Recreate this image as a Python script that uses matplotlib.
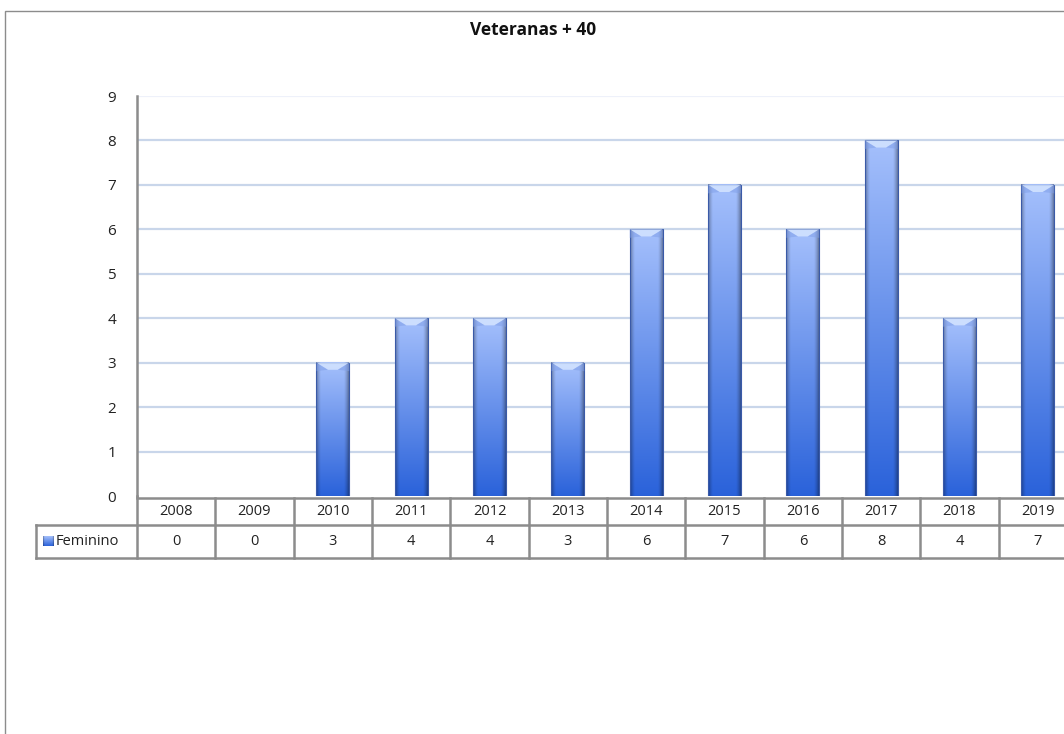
import numpy as np
import matplotlib
matplotlib.use('Agg')
import matplotlib.pyplot as plt
from matplotlib.patches import Rectangle, Polygon

# data
years = ['2008', '2009', '2010', '2011', '2012', '2013', '2014', '2015', '2016', '2017', '2018', '2019']
feminino = [0, 0, 3, 4, 4, 3, 6, 7, 6, 8, 4, 7]
series_name = 'Feminino'
title = 'Veteranas + 40'

plt.rcParams['font.family'] = ['Open Sans', 'DejaVu Sans']

W, H = 1064, 734
fig = plt.figure(figsize=(W/100., H/100.), dpi=100)

# chart frame (runs off the right/bottom edge like the screenshot)
fig.patches.append(Rectangle((5./W, -0.1), 1.2, (H-11.)/H + 0.1, transform=fig.transFigure,
                             fill=False, edgecolor='#8c8c8c', lw=1.0))

# plot area in pixels
left, right, top, bottom = 137., 1077., 96., 496.
ax = fig.add_axes([left/W, (H-bottom)/H, (right-left)/W, (bottom-top)/H])
ax.set_xlim(-0.5, len(years)-0.5)
ax.set_ylim(0, 9)
for s in ['top', 'right', 'bottom']:
    ax.spines[s].set_visible(False)
ax.spines['left'].set_color('#8c8c8c')
ax.spines['left'].set_linewidth(1.8)
ax.set_xticks([])
ax.set_yticks(range(0, 10))
ax.tick_params(axis='y', length=0, pad=15, labelsize=11)
for lab in ax.get_yticklabels():
    lab.set_color('#222222')
for v in range(1, 10):
    c = '#c9d6ea' if v < 9 else '#eef1fa'
    ax.axhline(v, color=c, lw=1.6, zorder=0)

# bar gradient: light at top, dark at bottom, darker at sides
ny, nx = 200, 40
yy = np.linspace(0, 1, ny)[:, None]       # 0 bottom .. 1 top
xx = np.linspace(-1, 1, nx)[None, :]
top_c = np.array([165, 192, 252]) / 255.
bot_c = np.array([42, 98, 218]) / 255.
grad = bot_c + (top_c - bot_c) * yy[..., None]
side = 1 - 0.35 * np.clip((np.abs(xx) - 0.7) / 0.3, 0, 1) ** 1.5
side = side + 0.0 * yy
grad = np.clip(grad * side[..., None], 0, 1)

bw = 0.42
for i, v in enumerate(feminino):
    if v <= 0:
        continue
    x0, x1 = i - bw/2, i + bw/2
    ax.imshow(grad, extent=(x0, x1, 0, v), origin='lower', aspect='auto',
              interpolation='bilinear', zorder=2)
    ax.add_patch(Rectangle((x0, 0), bw, v, fill=False, edgecolor='#3a5aa8', lw=0.8, zorder=3))
    # bevel on top
    dh = 0.16
    ax.add_patch(Polygon([(x0, v), (x1, v), (i + bw*0.15, v - dh), (i - bw*0.15, v - dh)],
                         closed=True, facecolor='#d4e4ff', edgecolor='none', alpha=0.85, zorder=3))
    ax.add_patch(Polygon([(x0, v), (i - bw*0.15, v - dh), (x0, v - dh*1.2)],
                         closed=True, facecolor='#7f9ee6', edgecolor='none', alpha=0.5, zorder=3))
    ax.add_patch(Polygon([(x1, v), (i + bw*0.15, v - dh), (x1, v - dh*1.2)],
                         closed=True, facecolor='#7f9ee6', edgecolor='none', alpha=0.5, zorder=3))

fig.text(533./W, 1 - 30./H, title, fontsize=12.5, fontweight='bold', color='#111111',
         ha='center', va='center')

# data table under the plot
tr = ax.get_xaxis_transform()
ph = bottom - top
def yfrac(py):
    return (bottom - py) / ph
r0, r1, r2 = yfrac(498.), yfrac(525.), yfrac(558.)
cell_unit = (right - left) / len(years)
xl = -0.5 - (left - 36.) / cell_unit
lc = '#8c8c8c'
n = len(years)
ax.plot([-0.5, n - 0.5], [r0, r0], color=lc, lw=1.8, transform=tr, clip_on=False)
ax.plot([xl, n - 0.5], [r1, r1], color=lc, lw=1.8, transform=tr, clip_on=False)
ax.plot([xl, n - 0.5], [r2, r2], color=lc, lw=1.8, transform=tr, clip_on=False)
ax.plot([xl, xl], [r1, r2], color=lc, lw=1.8, transform=tr, clip_on=False)
ax.plot([-0.5, -0.5], [0, r2], color=lc, lw=1.8, transform=tr, clip_on=False)
for i in range(n):
    ax.plot([i + 0.5, i + 0.5], [r0, r2], color=lc, lw=1.8, transform=tr, clip_on=False)
    ax.text(i, (r0 + r1) / 2, years[i], transform=tr, ha='center', va='center', fontsize=10.5, color='#222222')
    ax.text(i, (r1 + r2) / 2, str(feminino[i]), transform=tr, ha='center', va='center', fontsize=10.5, color='#222222')

# legend key + series name
kx0 = -0.5 - (left - 43.) / cell_unit
kx1 = -0.5 - (left - 53.) / cell_unit
ax.imshow(grad, extent=(kx0, kx1, yfrac(546.) * 9, yfrac(536.) * 9), origin='lower',
          aspect='auto', clip_on=False, zorder=4)
ax.set_xlim(-0.5, len(years)-0.5)
ax.set_ylim(0, 9)
ax.text(-0.5 - (left - 56.) / cell_unit, (r1 + r2) / 2, series_name, transform=tr,
        ha='left', va='center', fontsize=10.5, color='#222222')

fig.savefig('out.png', dpi=100)
